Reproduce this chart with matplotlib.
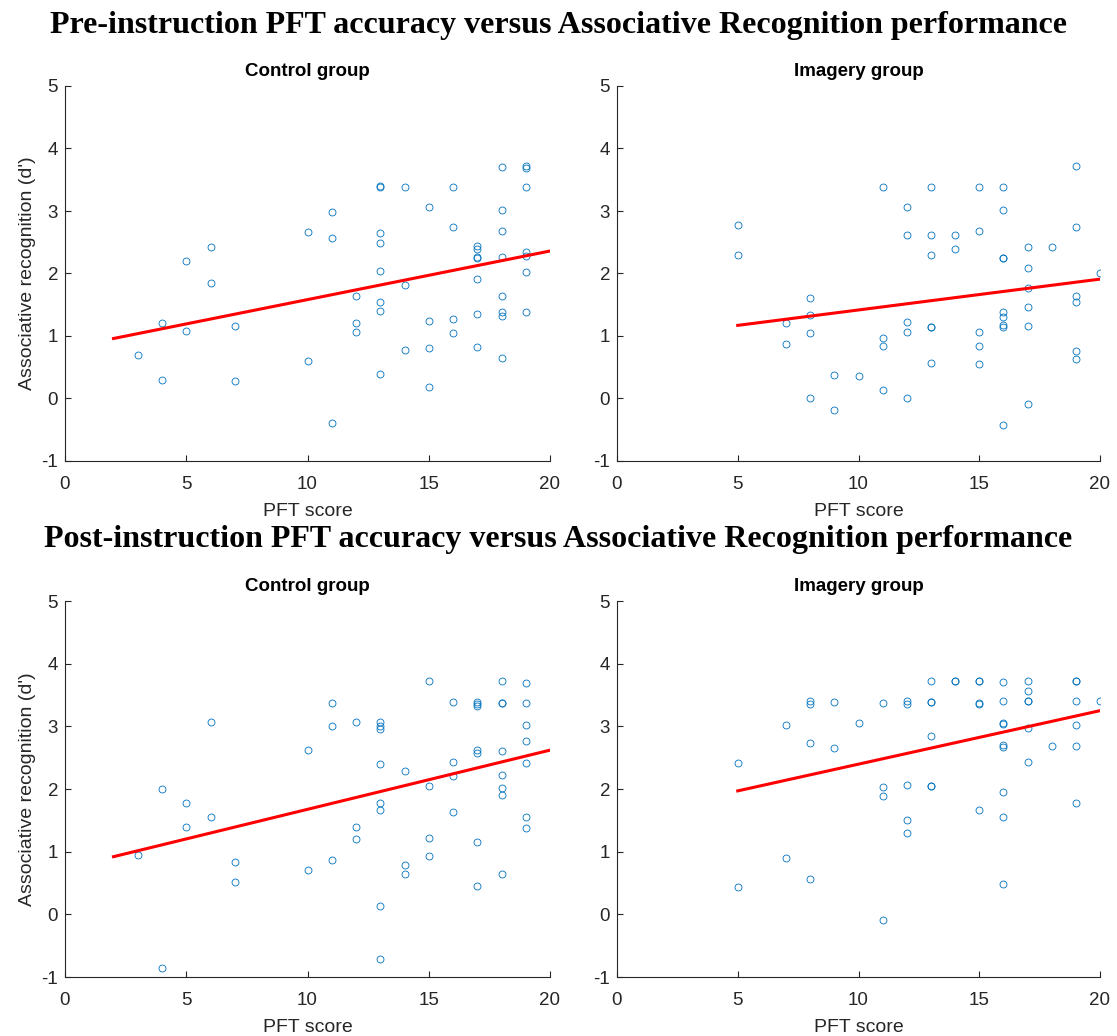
import matplotlib
matplotlib.use('Agg')
import matplotlib.pyplot as plt

plt.rcParams['font.family'] = ['Liberation Sans', 'DejaVu Sans']
plt.rcParams['axes.unicode_minus'] = False

# PFT score (x) and associative recognition d' (y)
pre_ctrl_x = [3, 4, 4, 5, 5, 6, 6, 7, 7, 10, 10, 11, 11, 11, 12, 12, 12,
              13, 13, 13, 13, 13, 13, 13, 13, 14, 14, 14, 15, 15, 15, 15,
              16, 16, 16, 16, 17, 17, 17, 17, 17, 17, 17,
              18, 18, 18, 18, 18, 18, 18, 18, 19, 19, 19, 19, 19, 19, 19]
pre_ctrl_y = [0.70, 1.20, 0.29, 2.20, 1.08, 2.42, 1.85, 1.16, 0.28, 2.66, 0.60,
              2.98, 2.56, -0.40, 1.64, 1.21, 1.07,
              3.39, 3.40, 2.64, 2.48, 2.04, 1.54, 1.40, 0.39, 3.39, 1.82, 0.78,
              3.07, 1.24, 0.81, 0.18, 3.39, 2.75, 1.27, 1.05,
              2.44, 2.39, 2.27, 2.25, 1.91, 1.35, 0.83,
              3.71, 3.02, 2.68, 2.26, 1.64, 1.38, 1.32, 0.64,
              3.72, 3.69, 3.39, 2.35, 2.28, 2.02, 1.38]

pre_img_x = [5, 5, 7, 7, 8, 8, 8, 8, 9, 9, 10, 11, 11, 11, 11,
             12, 12, 12, 12, 12, 13, 13, 13, 13, 13, 13, 14, 14,
             15, 15, 15, 15, 15, 16, 16, 16, 16, 16, 16, 16, 16, 16,
             17, 17, 17, 17, 17, 17, 18, 19, 19, 19, 19, 19, 19, 20]
pre_img_y = [2.77, 2.30, 1.21, 0.87, 1.61, 1.34, 1.04, 0.00, 0.38, -0.18, 0.36,
             3.38, 0.97, 0.84, 0.14, 3.07, 2.61, 1.23, 1.07, 0.00,
             3.38, 2.62, 2.29, 1.15, 1.14, 0.56, 2.61, 2.39,
             3.39, 2.68, 1.06, 0.84, 0.55,
             3.38, 3.01, 2.25, 2.25, 1.38, 1.30, 1.18, 1.14, -0.43,
             2.42, 2.08, 1.77, 1.47, 1.16, -0.09, 2.42,
             3.72, 2.74, 1.64, 1.54, 0.76, 0.63, 2.00]

post_ctrl_x = [3, 4, 4, 5, 5, 6, 6, 7, 7, 10, 10, 11, 11, 11, 12, 12, 12,
               13, 13, 13, 13, 13, 13, 13, 13, 14, 14, 14, 15, 15, 15, 15,
               16, 16, 16, 16, 17, 17, 17, 17, 17, 17, 17,
               18, 18, 18, 18, 18, 18, 18, 18, 19, 19, 19, 19, 19, 19, 19]
post_ctrl_y = [0.94, 2.00, -0.85, 1.78, 1.40, 3.07, 1.56, 0.83, 0.52, 2.63, 0.70,
               3.38, 3.01, 0.86, 3.07, 1.40, 1.20,
               3.07, 3.01, 2.95, 2.40, 1.77, 1.66, 0.14, -0.71, 2.29, 0.78, 0.65,
               3.72, 2.05, 1.22, 0.93, 3.39, 2.43, 2.20, 1.64,
               3.39, 3.35, 3.33, 2.63, 2.58, 1.16, 0.46,
               3.72, 3.38, 3.38, 2.61, 2.23, 2.01, 1.91, 0.65,
               3.69, 3.38, 3.02, 2.77, 2.41, 1.56, 1.38]

post_img_x = [5, 5, 7, 7, 8, 8, 8, 8, 9, 9, 10, 11, 11, 11, 11,
              12, 12, 12, 12, 12, 13, 13, 13, 13, 13, 13, 14, 14,
              15, 15, 15, 15, 15, 16, 16, 16, 16, 16, 16, 16, 16, 16,
              17, 17, 17, 17, 17, 17, 18, 19, 19, 19, 19, 19, 19, 20]
post_img_y = [2.42, 0.43, 3.02, 0.90, 3.41, 3.35, 2.73, 0.57, 3.39, 2.66, 3.06,
              3.38, 2.03, 1.89, -0.09, 3.41, 3.36, 2.07, 1.51, 1.29,
              3.72, 3.39, 3.39, 2.84, 2.05, 2.04, 3.72, 3.72,
              3.73, 3.73, 3.38, 3.36, 1.66,
              3.70, 3.40, 3.06, 3.03, 2.71, 2.67, 1.96, 1.56, 0.49,
              3.73, 3.57, 3.40, 3.40, 2.98, 2.43, 2.68,
              3.73, 3.73, 3.40, 3.02, 2.68, 1.78, 3.40]

# least squares lines (x range, y at ends) as drawn in the picture
pre_ctrl_fit = ([2, 20], [0.96, 2.36])
pre_img_fit = ([5, 20], [1.17, 1.91])
post_ctrl_fit = ([2, 20], [0.92, 2.62])
post_img_fit = ([5, 20], [1.97, 3.25])

titles = ['Control group', 'Imagery group']
big_titles = ['Pre-instruction PFT accuracy versus Associative Recognition performance',
              'Post-instruction PFT accuracy versus Associative Recognition performance']

fig = plt.figure(figsize=(11.17, 10.36), dpi=100)

W = 1117.0
H = 1036.0
# panel boxes in pixels: left, top, right, bottom
boxes = [(65, 86, 550, 461), (617, 86, 1100, 461),
         (65, 601, 550, 977), (617, 601, 1100, 977)]
panels = [(pre_ctrl_x, pre_ctrl_y, pre_ctrl_fit),
          (pre_img_x, pre_img_y, pre_img_fit),
          (post_ctrl_x, post_ctrl_y, post_ctrl_fit),
          (post_img_x, post_img_y, post_img_fit)]

for i, (box, (xs, ys, fit)) in enumerate(zip(boxes, panels)):
    l, t, r, b = box
    ax = fig.add_axes([l / W, 1 - b / H, (r - l) / W, (b - t) / H])
    ax.plot(xs, ys, 'o', mfc='none', mec='#0072BD', ms=5, mew=0.6)
    ax.plot(fit[0], fit[1], color='red', linewidth=2.2)
    ax.set_xlim(0, 20)
    ax.set_ylim(-1, 5)
    ax.set_xticks([0, 5, 10, 15, 20])
    ax.set_yticks([-1, 0, 1, 2, 3, 4, 5])
    for s in ['top', 'right']:
        ax.spines[s].set_visible(False)
    for s in ['left', 'bottom']:
        ax.spines[s].set_color('#262626')
        ax.spines[s].set_linewidth(0.8)
    ax.tick_params(direction='in', length=4, width=0.8, colors='#262626',
                   labelsize=13.5)
    ax.tick_params(axis='x', pad=11)
    ax.tick_params(axis='y', pad=5)
    ax.set_title(titles[i % 2], fontsize=13.5, fontweight='bold', pad=7)
    ax.set_xlabel('PFT score', fontsize=14, color='#262626', labelpad=7)
    if i % 2 == 0:
        ax.set_ylabel("Associative recognition (d')", fontsize=14,
                      color='#262626', labelpad=4)

fig.text(0.5, 1 - 25 / H, big_titles[0], ha='center', va='center',
         fontsize=23, fontweight='bold', family='Liberation Serif')
fig.text(0.5, 1 - 540 / H, big_titles[1], ha='center', va='center',
         fontsize=23, fontweight='bold', family='Liberation Serif')

fig.savefig('out.png', dpi=100)
